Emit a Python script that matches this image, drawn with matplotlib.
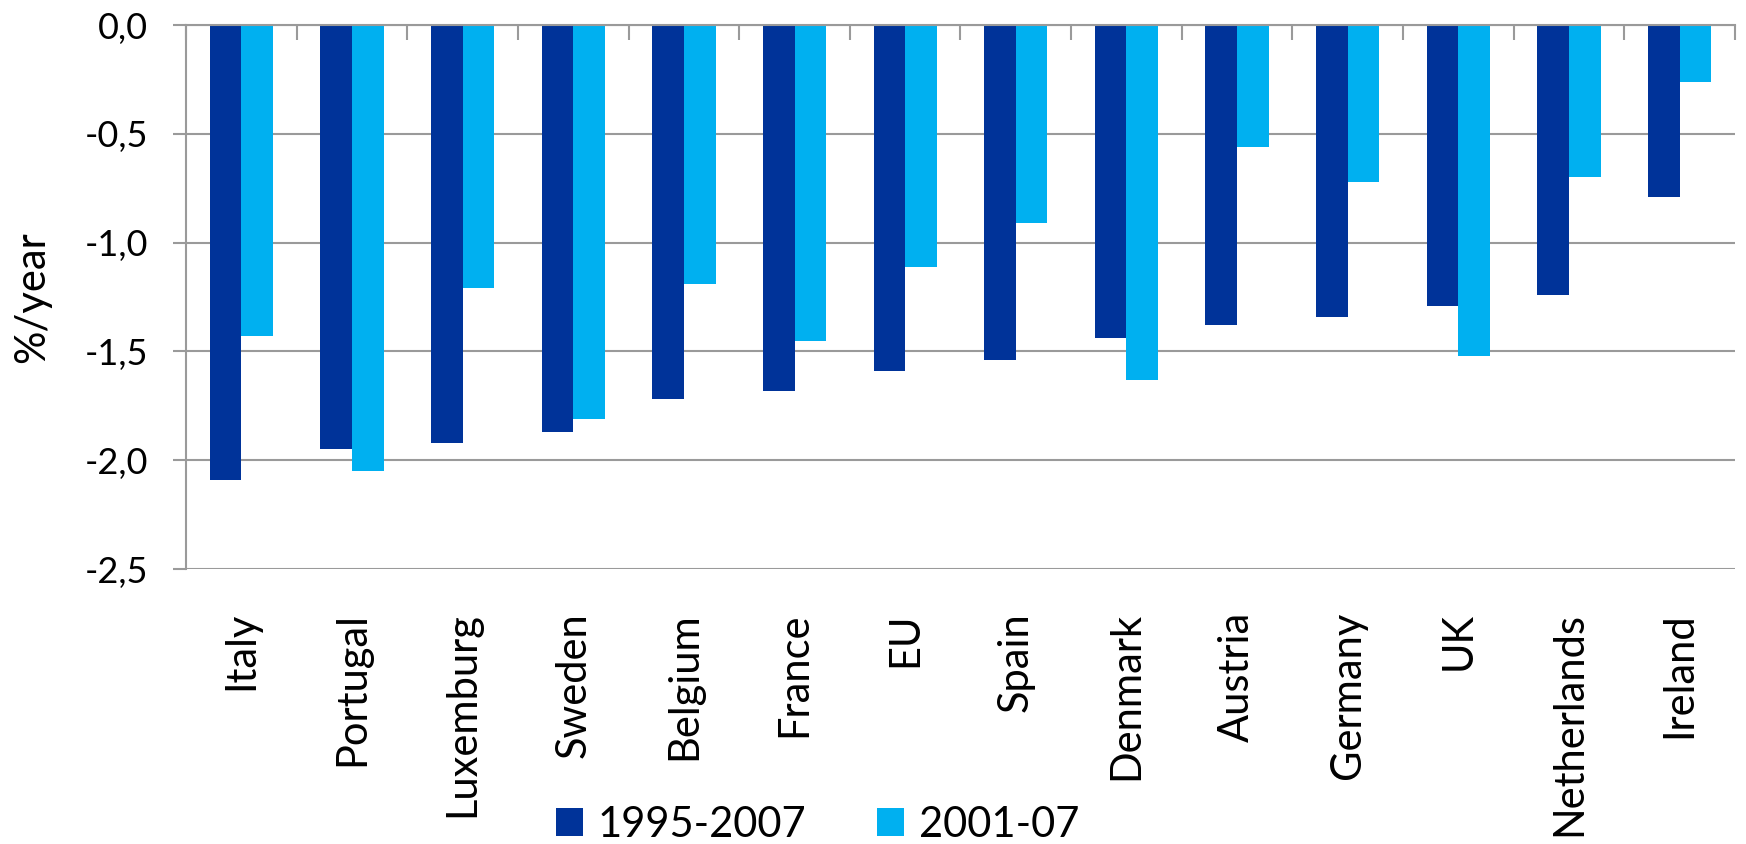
import matplotlib
matplotlib.use('Agg')
import matplotlib.pyplot as plt
import numpy as np
from matplotlib.patches import Patch
from matplotlib.ticker import FixedLocator

countries = ['Italy', 'Portugal', 'Luxemburg', 'Sweden', 'Belgium', 'France', 'EU',
             'Spain', 'Denmark', 'Austria', 'Germany', 'UK', 'Netherlands', 'Ireland']
s1995_2007 = [-2.09, -1.95, -1.92, -1.87, -1.72, -1.68, -1.59, -1.54, -1.44, -1.38,
              -1.34, -1.29, -1.24, -0.79]
s2001_07 = [-1.43, -2.05, -1.21, -1.81, -1.19, -1.45, -1.11, -0.91, -1.63, -0.56,
            -0.72, -1.52, -0.70, -0.26]
series_names = ['1995-2007', '2001-07']
yticks = [0.0, -0.5, -1.0, -1.5, -2.0, -2.5]
ytick_labels = ['0,0', '-0,5', '-1,0', '-1,5', '-2,0', '-2,5']
ylabel = '%/year'

dark = '#003399'
light = '#00B0F0'
grey = '#9a9a9a'

plt.rcParams['font.family'] = ['Lato', 'DejaVu Sans']

fig = plt.figure(figsize=(17.46, 8.44), dpi=100)
ax = fig.add_axes([186/1746, 1-569/844, (1735-186)/1746, (569-25)/844])

x = np.arange(len(countries))
w = 1/3.5
ax.bar(x - w/2, s1995_2007, width=w, color=dark, zorder=3, label=series_names[0])
ax.bar(x + w/2, s2001_07, width=w, color=light, zorder=3, label=series_names[1])

ax.set_xlim(-0.5, len(countries) - 0.5)
ax.set_ylim(-2.5, 0)

ax.set_yticks(yticks)
ax.set_yticklabels(ytick_labels, fontsize=26)
ax.yaxis.grid(True, color=grey, linewidth=1.5, zorder=0)
ax.tick_params(axis='y', length=9.5, width=1.5, color=grey, pad=18)

ax.set_xticks(x)
ax.set_xticklabels(countries, rotation=90, fontsize=30, va='top', ha='center')
ax.tick_params(axis='x', which='major', length=0, pad=31)
ax.xaxis.set_minor_locator(FixedLocator(np.arange(-0.5, len(countries), 1.0)))
ax.tick_params(axis='x', which='minor', bottom=False, top=True, direction='in',
               length=10.5, width=1.5, color=grey)

for s in ['right', 'bottom']:
    ax.spines[s].set_visible(False)
for s in ['left', 'top']:
    ax.spines[s].set_color(grey)
    ax.spines[s].set_linewidth(1.5)
    ax.spines[s].set_zorder(4)

fig.text(32/1746, 1-297/844, ylabel, rotation=90, ha='center', va='center', fontsize=30)

handles = [Patch(facecolor=dark), Patch(facecolor=light)]
fig.legend(handles, series_names, loc='lower left', bbox_to_anchor=(556/1746, 0.0),
           ncol=2, frameon=False, fontsize=30, handlelength=0.65, handleheight=0.65,
           handletextpad=0.35, columnspacing=1.7, borderpad=0, borderaxespad=0)

fig.savefig('out.png', dpi=100)
